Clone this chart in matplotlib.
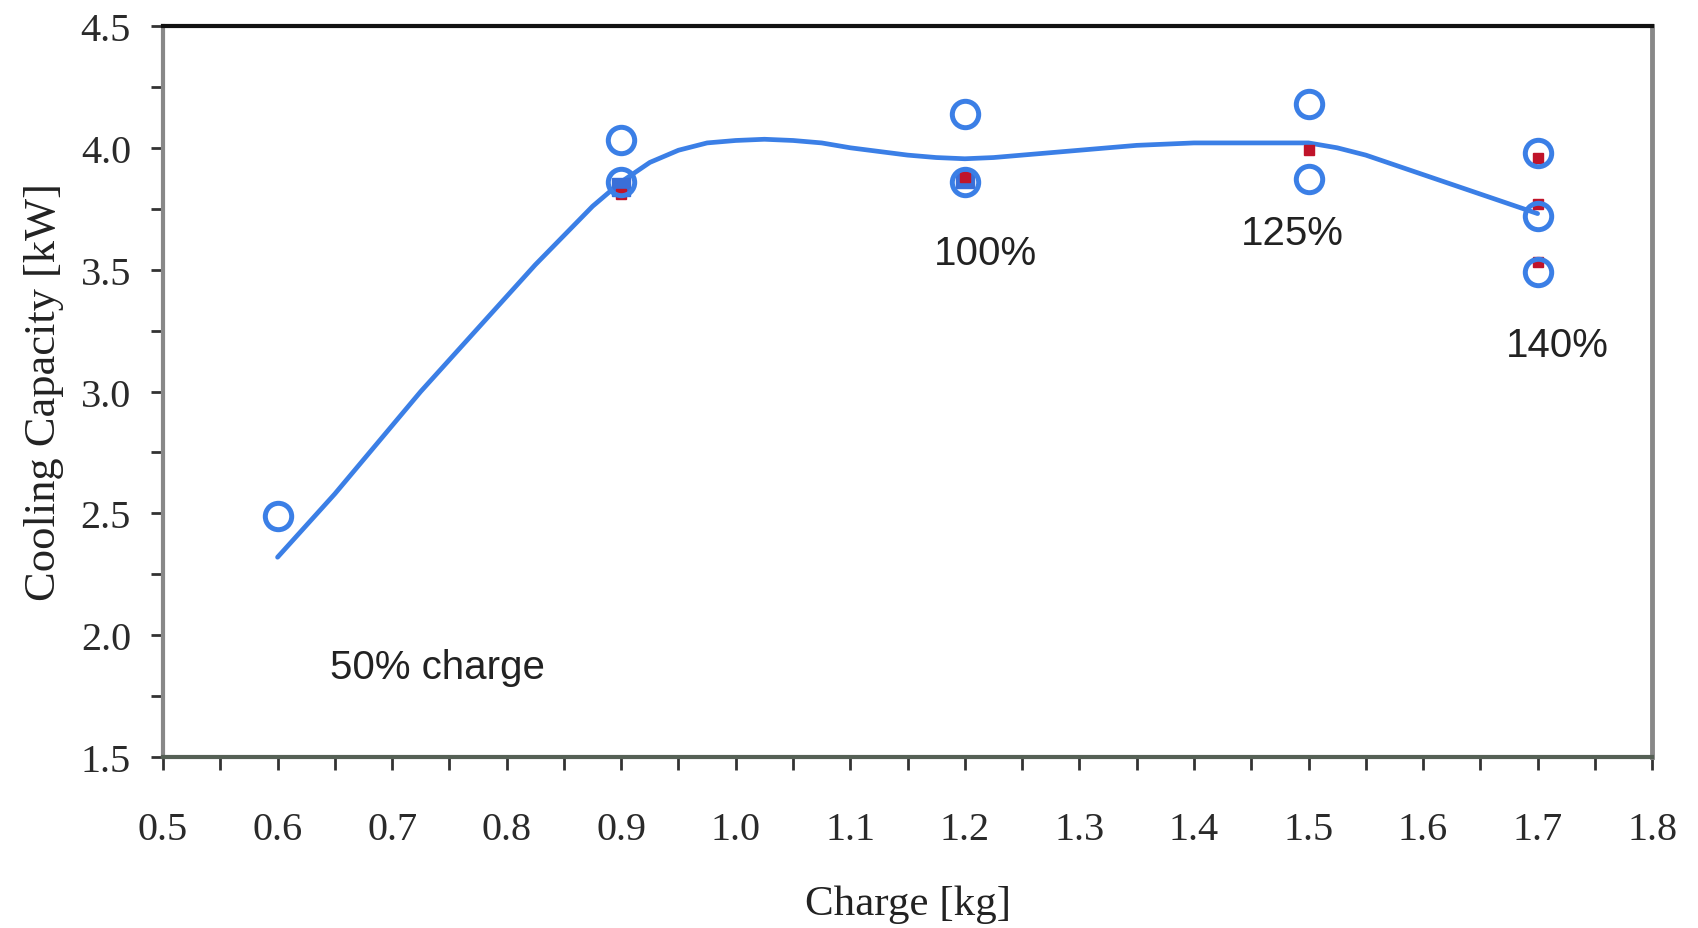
import matplotlib
matplotlib.use("Agg")
import matplotlib.pyplot as plt
from matplotlib.ticker import MultipleLocator

# measured points (open circles)
circle_x = [0.6, 0.9, 0.9, 1.2, 1.2, 1.5, 1.5, 1.7, 1.7, 1.7]
circle_y = [2.49, 4.03, 3.86, 4.14, 3.86, 4.18, 3.87, 3.98, 3.72, 3.49]

# filled blue points hidden behind two of the circles
filled_x = [0.9, 1.2]
filled_y = [3.84, 3.87]

# small red markers partly hidden under the circles
red_x = [0.9, 1.2, 1.5, 1.7, 1.7, 1.7]
red_y = [3.81, 3.88, 3.99, 3.96, 3.77, 3.53]

# smooth trend line
curve_x = [0.600, 0.625, 0.650, 0.675, 0.700, 0.725, 0.750, 0.775, 0.800, 0.825,
           0.850, 0.875, 0.900, 0.925, 0.950, 0.975, 1.000, 1.025, 1.050, 1.075,
           1.100, 1.125, 1.150, 1.175, 1.200, 1.225, 1.250, 1.275, 1.300, 1.325,
           1.350, 1.375, 1.400, 1.425, 1.450, 1.475, 1.500, 1.525, 1.550, 1.575,
           1.600, 1.625, 1.650, 1.675, 1.700]
curve_y = [2.32, 2.45, 2.58, 2.72, 2.86, 3.00, 3.13, 3.26, 3.39, 3.52,
           3.64, 3.76, 3.86, 3.94, 3.99, 4.02, 4.03, 4.035, 4.03, 4.02,
           4.00, 3.985, 3.97, 3.96, 3.955, 3.96, 3.97, 3.98, 3.99, 4.00,
           4.01, 4.015, 4.02, 4.02, 4.02, 4.02, 4.02, 4.00, 3.97, 3.93,
           3.89, 3.85, 3.81, 3.77, 3.73]

labels = ["50% charge", "100%", "125%", "140%"]
label_x = [0.646, 1.173, 1.441, 1.672]
label_y = [1.87, 3.57, 3.65, 3.19]

blue = "#3b7fe6"
serif = "Liberation Serif"
sans = "Liberation Sans"

fig = plt.figure(figsize=(16.98, 9.29), dpi=100)
ax = fig.add_axes([0.096, 0.184, 0.877, 0.787])

ax.plot(curve_x, curve_y, color=blue, lw=3.4, solid_joinstyle="round",
        solid_capstyle="round", zorder=2)
ax.plot(filled_x, filled_y, ls="none", marker="s", ms=13, color="#3a6fd8", zorder=3)
ax.plot(red_x, red_y, ls="none", marker="s", ms=7, color="#c0142a", zorder=3)
ax.plot(circle_x, circle_y, ls="none", marker="o", ms=19, mfc="none",
        mec=blue, mew=3.6, zorder=4)

for t, x, y in zip(labels, label_x, label_y):
    ax.text(x, y, t, fontsize=29, family=sans, color="#222222", va="center", ha="left")

ax.set_xlim(0.5, 1.8)
ax.set_ylim(1.5, 4.5)
ax.xaxis.set_major_locator(MultipleLocator(0.1))
ax.xaxis.set_minor_locator(MultipleLocator(0.05))
ax.yaxis.set_major_locator(MultipleLocator(0.5))
ax.yaxis.set_minor_locator(MultipleLocator(0.25))
ax.set_xticklabels([f"{v:.1f}" for v in ax.get_xticks()])
ax.set_yticklabels([f"{v:.1f}" for v in ax.get_yticks()])
ax.tick_params(which="both", direction="out", length=9, width=2, color="#333333")
ax.tick_params(axis="x", pad=30)
ax.tick_params(axis="y", pad=14)
for lab in ax.get_xticklabels() + ax.get_yticklabels():
    lab.set_family(serif)
    lab.set_fontsize(29)
    lab.set_color("#2a2a2a")

ax.set_xlabel("Charge [kg]", fontsize=31, family=serif, color="#222222", labelpad=26)
ax.set_ylabel("Cooling Capacity [kW]", fontsize=32, family=serif, color="#222222", labelpad=12)

ax.spines["top"].set_color("#111111")
ax.spines["top"].set_linewidth(3)
ax.spines["left"].set_color("#888888")
ax.spines["left"].set_linewidth(3)
ax.spines["right"].set_color("#888888")
ax.spines["right"].set_linewidth(3.5)
ax.spines["bottom"].set_color("#556055")
ax.spines["bottom"].set_linewidth(3)

fig.savefig("out.png", dpi=100)
